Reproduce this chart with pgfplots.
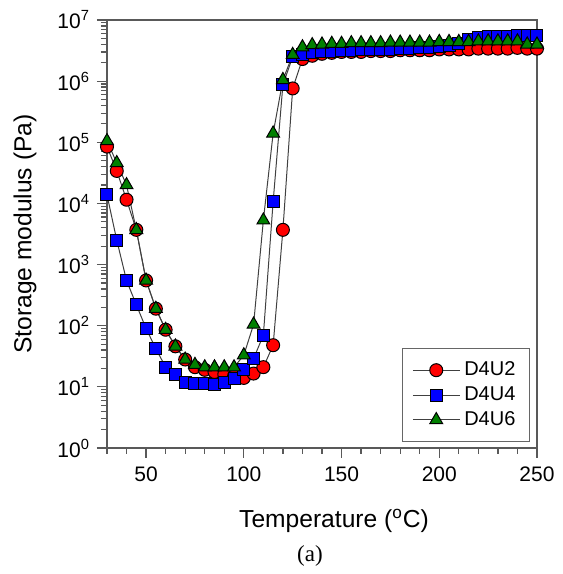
\documentclass[border=0pt]{standalone}
\usepackage{fontspec}
\setmainfont{Liberation Sans}
\newfontfamily\serifa{Liberation Serif}
\usepackage{pgfplots}
\pgfplotsset{compat=1.18}
\definecolor{mred}{RGB}{255,0,0}
\definecolor{mblue}{RGB}{0,0,255}
\definecolor{mgreen}{RGB}{0,128,0}
\begin{document}
\begin{tikzpicture}
\useasboundingbox (-53.5pt,-63pt) rectangle (228pt,224pt);
\begin{axis}[
 at={(0pt,0pt)}, anchor=south west,
 scale only axis, width=215pt, height=214pt,
 xmin=30, xmax=250, ymin=1, ymax=1e7,
 ymode=log, log basis y=10,
 xtick={50,100,150,200,250},
 xticklabels={50,100,150,200,250},
 minor xtick={30,40,60,70,80,90,110,120,130,140,160,170,180,190,210,220,230,240},
 ytick={1,10,100,1000,10000,100000,1000000,10000000},
 yticklabels={10\textsuperscript{0},10\textsuperscript{1},10\textsuperscript{2},10\textsuperscript{3},10\textsuperscript{4},10\textsuperscript{5},10\textsuperscript{6},10\textsuperscript{7}},
 minor ytick={2,3,4,5,6,7,8,9,20,30,40,50,60,70,80,90,200,300,400,500,600,700,800,900,2000,3000,4000,5000,6000,7000,8000,9000,2e4,3e4,4e4,5e4,6e4,7e4,8e4,9e4,2e5,3e5,4e5,5e5,6e5,7e5,8e5,9e5,2e6,3e6,4e6,5e6,6e6,7e6,8e6,9e6},
 tick align=outside, tick pos=left,
 major tick length=5pt, minor tick length=3pt,
 axis line style={black!65, line width=0.6pt},
 every tick/.style={black!65, line width=0.6pt},
 ticklabel style={font=\fontsize{10.5}{12}\selectfont},
 xticklabel style={yshift=-1pt},
 xlabel={Temperature (\textsuperscript{o}C)},
 ylabel={Storage modulus (Pa)},
 label style={font=\fontsize{12.3}{14}\selectfont},
 xlabel style={at={(axis description cs:0.528,0)}, anchor=base, yshift=-39.5pt},
 ylabel style={at={(axis description cs:-0.1907,0.5)}, anchor=center},
 legend style={at={(0.9837,0.014)}, anchor=south east, draw=black!60, line width=0.6pt,
   font=\fontsize{10}{12}\selectfont, inner xsep=5pt, inner ysep=4.5pt, row sep=0pt,
   /tikz/every even column/.append style={column sep=8pt}},
 legend cell align=left,
 legend image code/.code={\draw[mark repeat=2,mark phase=2] plot coordinates {(0pt,0pt) (11.75pt,0pt) (23.5pt,0pt)};},
]
\addplot[color=black!75, line width=0.5pt, mark=*, mark size=3.25pt, mark options={fill=mred, draw=black, line width=0.5pt}] coordinates {
(30,8.5e4)(35,3.4e4)(40,1.15e4)(45,3.7e3)(50,550)(55,190)(60,86)(65,46)(70,28)(75,21)(80,19)(85,17.5)(90,16)(95,15)(100,14)(105,16.5)(110,21)(115,48)(120,3.7e3)(125,7.6e5)
(130,2.3e6)(135,2.6e6)(140,2.8e6)(145,2.9e6)(150,3.0e6)(155,3.0e6)(160,3.0e6)(165,3.1e6)(170,3.1e6)(175,3.1e6)(180,3.2e6)(185,3.2e6)(190,3.2e6)(195,3.2e6)(200,3.3e6)(205,3.3e6)(210,3.3e6)(215,3.3e6)(220,3.4e6)(225,3.4e6)(230,3.4e6)(235,3.4e6)(240,3.5e6)(245,3.4e6)(250,3.4e6)};
\addlegendentry{D4U2}
\addplot[color=black!75, line width=0.5pt, mark=square*, mark size=3pt, mark options={fill=mblue, draw=black, line width=0.5pt}] coordinates {
(30,1.38e4)(35,2.5e3)(40,550)(45,220)(50,90)(55,42)(60,21)(65,16)(70,12)(75,11.5)(80,11.5)(85,11)(90,12)(95,13.5)(100,19)(105,29)(110,70)(115,1.07e4)(120,8.7e5)(125,2.5e6)
(130,2.7e6)(135,2.9e6)(140,3.0e6)(145,3.1e6)(150,3.2e6)(155,3.2e6)(160,3.3e6)(165,3.3e6)(170,3.3e6)(175,3.3e6)(180,3.4e6)(185,3.4e6)(190,3.5e6)(195,3.6e6)(200,3.7e6)(205,3.9e6)(210,4.2e6)(215,4.8e6)(220,5.2e6)(225,5.3e6)(230,5.4e6)(235,5.4e6)(240,5.5e6)(245,5.5e6)(250,5.5e6)};
\addlegendentry{D4U4}
\addplot[color=black!75, line width=0.5pt, mark=triangle*, mark size=3.7pt, mark options={fill=mgreen, draw=black, line width=0.5pt}] coordinates {
(30,1.05e5)(35,4.6e4)(40,2.0e4)(45,3.7e3)(50,550)(55,190)(60,86)(65,46)(70,28)(75,23)(80,21)(85,21)(90,21)(95,21)(100,33)(105,105)(110,5.3e3)(115,1.4e5)(120,1.05e6)(125,2.7e6)
(130,3.6e6)(135,3.9e6)(140,4.0e6)(145,4.1e6)(150,4.1e6)(155,4.2e6)(160,4.2e6)(165,4.2e6)(170,4.2e6)(175,4.3e6)(180,4.3e6)(185,4.3e6)(190,4.3e6)(195,4.3e6)(200,4.4e6)(205,4.4e6)(210,4.4e6)(215,4.4e6)(220,4.5e6)(225,4.5e6)(230,4.5e6)(235,4.5e6)(240,4.5e6)(245,4.0e6)(250,4.0e6)};
\addlegendentry{D4U6}
\end{axis}
\node[anchor=base, font=\serifa\fontsize{11.5}{13}\selectfont] at (101.5pt,-56.8pt) {(a)};
\end{tikzpicture}
\end{document}
